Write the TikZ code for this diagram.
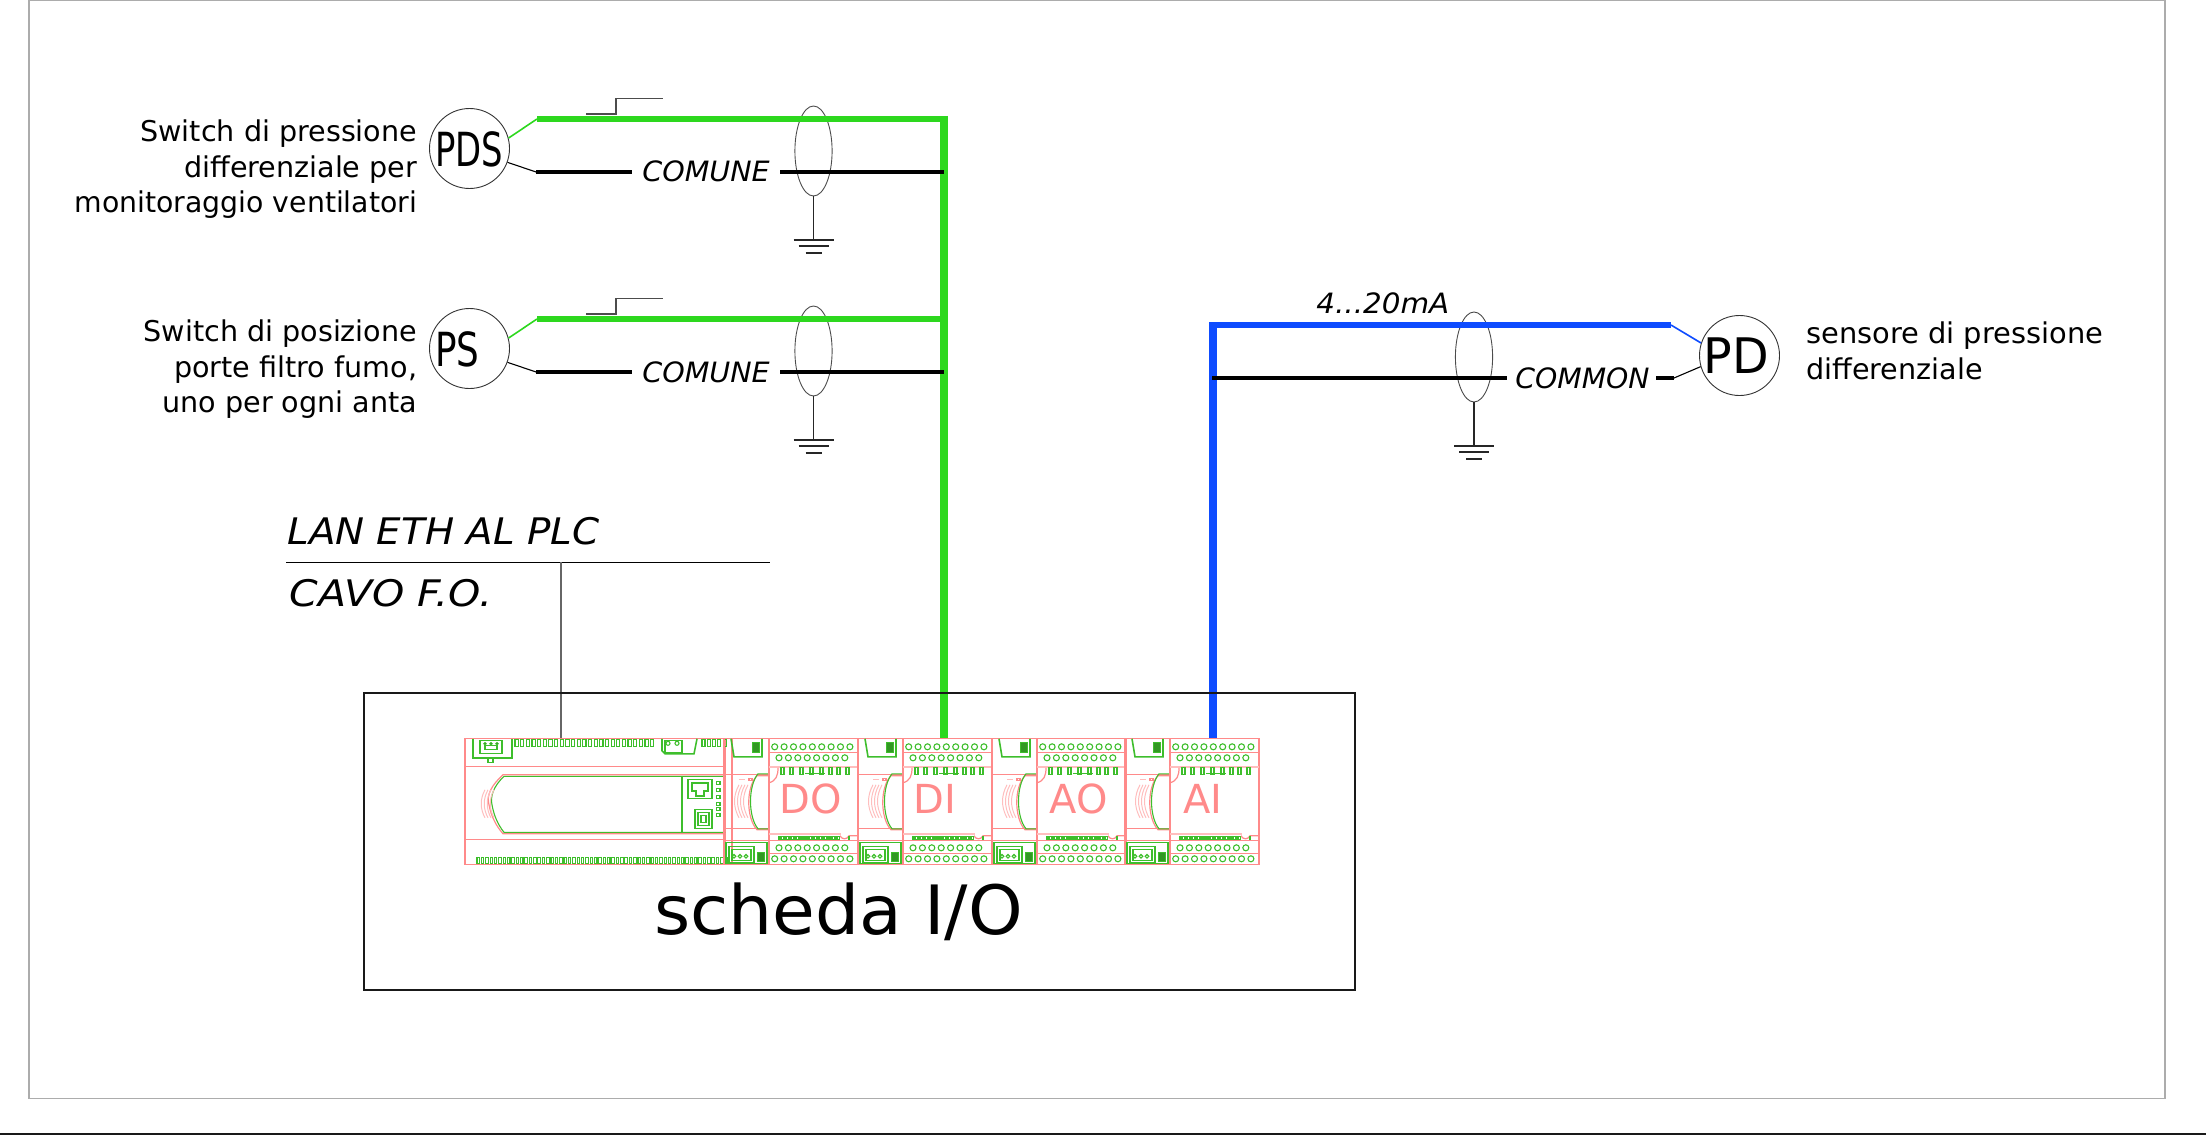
\documentclass[tikz,border=0pt]{standalone}
\usepackage{fontspec}
\setmainfont{DejaVu Sans}
\usetikzlibrary{shapes.geometric}
\definecolor{wgreen}{RGB}{45,216,30}
\definecolor{wblue}{RGB}{14,76,255}
\definecolor{mred}{RGB}{255,138,138}
\definecolor{mpale}{RGB}{255,190,190}
\definecolor{mgreen}{RGB}{62,190,44}
\definecolor{framegray}{RGB}{172,172,172}
\tikzset{
  gwire/.style={draw=wgreen,line width=2.9pt},
  gdrop/.style={draw=wgreen,line width=3.8pt},
  bwire/.style={draw=wblue,line width=2.8pt},
  bdrop/.style={draw=wblue,line width=3.8pt},
  kwire/.style={draw=black,line width=1.8pt},
  thinw/.style={line width=0.55pt},
  gndw/.style={draw=black!85,line width=0.9pt},
  mr/.style={draw=mred,line width=0.6pt},
  mp/.style={draw=mpale,line width=0.5pt},
  mg/.style={draw=mgreen,line width=0.55pt},
  mgf/.style={draw=mgreen,fill=mgreen!80!black,line width=0.3pt},
  sym/.style={circle,draw=black!80,line width=0.45pt,minimum size=40pt,inner sep=0pt},
  shield/.style={ellipse,draw=black!70,line width=0.45pt,minimum width=18.6pt,minimum height=45pt,inner sep=0pt},
  lbl/.style={inner sep=0pt,font=\fontsize{14.3pt}{18pt}\selectfont},
  wlbl/.style={inner sep=0pt,font=\fontsize{14pt}{18pt}\selectfont\itshape,anchor=base west},
  biglbl/.style={inner sep=0pt,font=\fontsize{18.3pt}{22pt}\selectfont\itshape,anchor=base west},
  modlbl/.style={inner sep=0pt,text=mred,font=\fontsize{20pt}{24pt}\selectfont,anchor=base west},
}
% ground symbol hanging from a named coordinate
\newcommand{\gndsym}[2]{%
  \draw[gndw] (#1-20,#2)--(#1+20,#2);
  \draw[gndw] (#1-15,#2+6)--(#1+15,#2+6);
  \draw[gndw] (#1-8,#2+13)--(#1+8,#2+13);
}
% one I/O module and the gap module on its left
\newcommand{\iomod}[4]{%
\begin{scope}[shift={(#1,0.8)}]
  % gap part
  \draw[mr] (-45,738)--(0,738) (-45,864)--(0,864) (-45,774)--(0,774) (-45,828)--(0,828) (-45,840)--(0,840);
  \draw[mr] (-45,738)--(-45,864);
  \draw[mg,line width=0.8pt] (-38,738)--(-35,756)--(-7,756)--(-7,738);
  \draw[mgf] (-17,741) rectangle (-10,751);
  \draw[mr] (0,775)--(-12,775) .. controls (-23,786) and (-23,817) .. (-12,829)--(0,829);
  \draw[mg] (0,773)--(-11,773) .. controls (-21,785) and (-21,816) .. (-11,828)--(0,828);
  \foreach \d in {0,3,6,9}{
    \draw[mp] (-30+\d,784) .. controls (-36+\d,795) and (-36+\d,806) .. (-30+\d,817);
  }
  \draw[mp] (-30,779)--(-24,779);
  \draw[mr] (-20,778) rectangle (-17,780);
  \draw[mg] (-43,842) rectangle (-2,863);
  \draw[mg] (-40,846) rectangle (-15,862);
  \draw[mg] (-37,849) rectangle (-18,860);
  \foreach \x in {-35,-29,-23}{\draw[mg] (\x,855.5) circle (1.8);}
  \draw[mgf] (-12,851) rectangle (-5,860);
  % module body
  \draw[mr] (0,738) rectangle (89,864);
  \draw[mr] (0,752)--(89,752) (0,840)--(89,840) (0,853)--(89,853);
  \draw[mp,line width=0.7pt] (0,766)--(89,766) (0,833)--(72,833);
  \draw[mr] (0,782) .. controls (7,780) and (9,775) .. (9,767);
  \draw[mr] (71,835) .. controls (73,839) and (78,839) .. (80,835)--(89,835);
  \foreach \i in {0,...,8}{\draw[mg] ({5.7+\i*9.4},746) circle (3); \draw[mg] ({5.7+\i*9.4},858) circle (3);}
  \foreach \i in {0,...,7}{\draw[mg] ({10+\i*9.4},757) circle (3); \draw[mg] ({10+\i*9.4},847) circle (3);}
  \foreach \x in {12,21,31,41,51,60,68,77}{\draw[mg] (\x,767) rectangle (\x+3,774);}
  \draw[mg] (36,773)--(56,773);
  \foreach \i in {0,...,23}{\draw[mg] ({10+\i*2.55},836) rectangle ({11.5+\i*2.55},839);}
  \draw[mg] (80,835)--(80,839);
  \node[modlbl] (#3) at (#4,813) {#2};
\end{scope}}
\begin{document}
\begin{tikzpicture}[x=0.5pt,y=-0.5pt]
\useasboundingbox (0,0) rectangle (2206,1145);
% sheet frame
\draw[framegray,line width=0.8pt] (29,0.5)--(2165,0.5)--(2165,1098.5)--(29,1098.5)--cycle;
\draw[black!90,line width=0.8pt] (0,1134)--(2206,1134);

% named points
\coordinate (g1a) at (537,119);  \coordinate (g1b) at (947,119);
\coordinate (k1a) at (536,172);  \coordinate (k1b) at (632,172);
\coordinate (k1c) at (780,172);  \coordinate (k1d) at (944,172);
\coordinate (g2a) at (537,319);  \coordinate (g2b) at (947,319);
\coordinate (k2a) at (536,372);  \coordinate (k2b) at (632,372);
\coordinate (k2c) at (780,372);  \coordinate (k2d) at (944,372);
\coordinate (gtop) at (944,116); \coordinate (gbot) at (944,739);
\coordinate (btop) at (1213,322); \coordinate (bbot) at (1213,739);
\coordinate (b1a) at (1210,325); \coordinate (b1b) at (1671,325);
\coordinate (k3a) at (1212,378); \coordinate (k3b) at (1507,378);
\coordinate (k3c) at (1656,378); \coordinate (k3d) at (1674,378);
\coordinate (lanL) at (286,562); \coordinate (lanR) at (770,562);
\coordinate (lanT) at (561,562); \coordinate (lanB) at (561,739);
\coordinate (gr1) at (813.5,240); \coordinate (gr2) at (813.5,440); \coordinate (gr3) at (1474,446);

% sensors
\node[sym] (pds) at (469.5,148.5) {};
\node[inner sep=0pt,anchor=base west] (pdslbl) at (435,166) {\scalebox{0.72}[1]{\fontsize{23.5pt}{26pt}\selectfont PDS}};
\node[sym] (ps) at (469.5,348.5) {};
\node[inner sep=0pt,anchor=base west] (pslbl) at (435,366) {\scalebox{0.76}[1]{\fontsize{23.5pt}{26pt}\selectfont PS}};
\node[sym] (pd) at (1739.5,355.5) {};
\node[inner sep=0pt,anchor=base west] (pdlbl) at (1703,373.5) {\scalebox{0.97}[1]{\fontsize{24.5pt}{26pt}\selectfont PD}};

% shields
\node[shield] (sh1) at (813.5,151) {};
\node[shield] (sh2) at (813.5,351) {};
\node[shield] (sh3) at (1474,357) {};

% wires
\draw[gdrop] (gtop)--(gbot);
\draw[gwire] (g1a)--(g1b);
\draw[gwire] (g2a)--(g2b);
\draw[bdrop] (btop)--(bbot);
\draw[bwire] (b1a)--(b1b);
\draw[kwire] (k1a)--(k1b) (k1c)--(k1d);
\draw[kwire] (k2a)--(k2b) (k2c)--(k2d);
\draw[kwire] (k3a)--(k3b) (k3c)--(k3d);
\draw[thinw,draw=wgreen,line width=0.8pt] (pds.15)--(g1a);
\draw[thinw] (pds.-20)--(k1a);
\draw[thinw,draw=wgreen,line width=0.8pt] (ps.15)--(g2a);
\draw[thinw] (ps.-20)--(k2a);
\draw[thinw,draw=wblue,line width=0.8pt] (pd.162)--(b1b);
\draw[thinw] (pd.196)--(k3d);

% grounds
\draw[gndw] (sh1.south)--(gr1); \gndsym{813.5}{240}
\draw[gndw] (sh2.south)--(gr2); \gndsym{813.5}{440}
\draw[gndw] (sh3.south)--(gr3); \gndsym{1474}{446}

% step signals
\coordinate (st1a) at (586,114); \coordinate (st1b) at (616,114); \coordinate (st1c) at (616,98.5); \coordinate (st1d) at (663,98.5);
\draw[black!70,line width=0.55pt] (st1a)--(st1b)--(st1c)--(st1d);
\coordinate (st2a) at (586,314); \coordinate (st2b) at (616,314); \coordinate (st2c) at (616,298.5); \coordinate (st2d) at (663,298.5);
\draw[black!70,line width=0.55pt] (st2a)--(st2b)--(st2c)--(st2d);

% wire labels
\node[wlbl] (com1) at (642,182) {\scalebox{1.02}[1]{COMUNE}};
\node[wlbl] (com2) at (642,382) {\scalebox{1.02}[1]{COMUNE}};
\node[wlbl] (com3) at (1515,388) {\scalebox{1.01}[1]{COMMON}};
\node[wlbl] (ma) at (1316,313.5) {\scalebox{1.05}[1]{4...20mA}};

% side labels
\node[lbl,anchor=base east] (t1) at (417.5,141) {Switch di pressione};
\node[lbl,anchor=base east] (t2) at (417.5,177) {differenziale per};
\node[lbl,anchor=base east] (t3) at (417.5,213) {\scalebox{0.99}[1]{monitoraggio ventilatori}};
\node[lbl,anchor=base east] (t4) at (417.5,341) {Switch di posizione};
\node[lbl,anchor=base east] (t5) at (417.5,377) {porte filtro fumo,};
\node[lbl,anchor=base east] (t6) at (417.5,412.5) {uno per ogni anta};
\node[lbl,anchor=base west] (t7) at (1806,343.5) {\scalebox{1.01}[1]{sensore di pressione}};
\node[lbl,anchor=base west] (t8) at (1806,379.5) {differenziale};

% LAN
\node[biglbl] (lan) at (287,544) {\scalebox{1.06}[1]{LAN ETH AL PLC}};
\node[biglbl] (cavo) at (289,606) {\scalebox{1.12}[1]{CAVO F.O.}};
\draw[black,line width=0.45pt] (lanL)--(lanR);
\draw[black!60,line width=0.65pt] (lanT)--(lanB);

% I/O board
\node[draw=black!90,line width=0.9pt,minimum width=495.5pt,minimum height=148.5pt,inner sep=0pt,anchor=north west] (board) at (363,692) {};
\node[inner sep=0pt,anchor=base west,font=\fontsize{34pt}{40pt}\selectfont] (sch) at (654,934) {\scalebox{1.022}[1]{scheda I/O}};

% CPU module
\begin{scope}[shift={(0,0.8)}]
\draw[mr] (465,738) rectangle (725,864);
\draw[mr] (465,766)--(725,766) (465,839)--(725,839) (732,738)--(732,864);
\draw[mg,line width=0.8pt] (473,738)--(473,757)--(512,757)--(512,738);
\draw[mg] (480,740) rectangle (502,753);
\draw[mg] (485,745) rectangle (497,749);
\foreach \x in {485,491,497}{\draw[mgf] (\x,743) circle (1.4);}
\draw[mg] (488,757) rectangle (493,762);
\foreach \i in {0,...,24}{\draw[mg] ({515+\i*5.65},739) rectangle ({518.2+\i*5.65},746);}
\draw[mg,line width=0.8pt] (662,738)--(662,750)--(665,753)--(694,753)--(697,738);
\draw[mg] (665,740) rectangle (682,752);
\foreach \x in {668,677}{\draw[mg] (\x,742.5) circle (2);}
\foreach \i in {0,...,4}{\draw[mg] ({702+\i*5.3},739) rectangle ({705+\i*5.3},746);}
\draw[mr] (725,774)--(503,774) .. controls (492,784) and (486,794) .. (489,804) .. controls (491,815) and (496,825) .. (503,833)--(725,833);
\draw[mg] (725,775.5)--(504,775.5) .. controls (494,785) and (490,795) .. (492,804) .. controls (494,815) and (498,824) .. (504,831.5)--(725,831.5);
\draw[mg] (682,775)--(682,832);
\draw[mg] (688,779) rectangle (712,798);
\draw[mg,line width=0.75pt] (692,782)--(708,782)--(708,790)--(704,790)--(704,795)--(696,795)--(696,790)--(692,790)--cycle;
\draw[mg] (695,809) rectangle (712,828);
\draw[mg] (698,812) rectangle (709,825);
\draw[mg] (701,815) rectangle (706,822);
\foreach \y in {781,788,795,802,807,813}{\draw[mg] (716.5,\y) rectangle (720,\y+3);}
\foreach \d in {0,3,6,9}{\draw[mp] (485+\d,789) .. controls (480+\d,798) and (480+\d,808) .. (485+\d,817);}
\foreach \i in {0,...,57}{\draw[mg] ({477+\i*4.35},857) rectangle ({479.5+\i*4.35},863);}
\end{scope}

% I/O modules
\iomod{769}{DO}{mdo}{10}
\iomod{903}{DI}{mdi}{10}
\iomod{1037}{AO}{mao}{12}
\iomod{1170}{AI}{mai}{13}
\end{tikzpicture}
\end{document}
